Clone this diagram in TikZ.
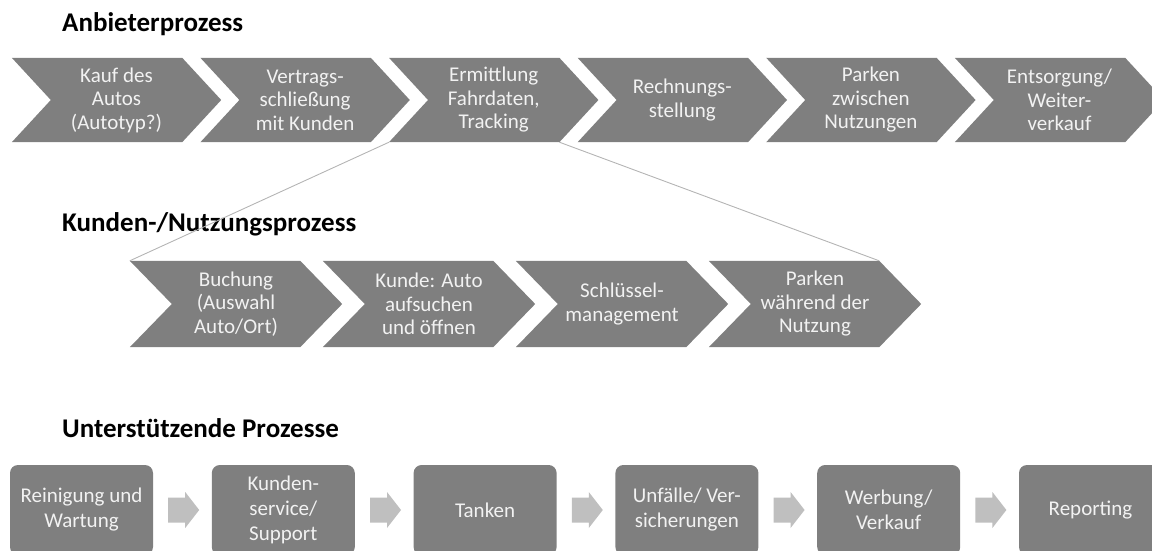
\documentclass[tikz,border=0pt]{standalone}
\usepackage{fontspec}
\setmainfont{Carlito}
\usetikzlibrary{backgrounds}
\definecolor{stepgray}{HTML}{7F7F7F}
\definecolor{steptext}{HTML}{F2F2F2}
\definecolor{arrowgray}{HTML}{BFBFBF}
\definecolor{linkgray}{HTML}{B4B4B4}
\tikzset{
  heading/.style={anchor=base west, inner sep=0pt, font=\fontsize{27}{32}\selectfont\bfseries},
  chevtop/.style={minimum width=209pt, minimum height=84pt, inner sep=0pt, align=center,
    text=steptext, font=\fontsize{21}{23.5}\selectfont},
  chevmid/.style={chevtop, minimum width=212pt, minimum height=86pt},
  supbox/.style={fill=stepgray, rounded corners=8pt, minimum width=143pt, minimum height=90pt,
    inner sep=0pt, align=center, text=steptext, font=\fontsize{21}{25}\selectfont},
  chevfill/.style={fill=stepgray},
  blockarrow/.style={fill=arrowgray},
  link/.style={draw=linkgray, line width=0.9pt},
}
\begin{document}
\begin{tikzpicture}[x=1pt,y=-1pt]
\useasboundingbox (0,0) rectangle (1152,551);

% section headings
\node[heading] (t1) at (62,32) {Anbieterprozess};
\node[heading] (t2) at (62,231) {Kunden-/Nutzungsprozess};
\node[heading] (t3) at (62,437) {Unterstützende Prozesse};

% provider process chevrons
\foreach \i/\t in {0/{Kauf des\\Autos\\(Autotyp?)},
                   1/{Vertrags-\\schließung\\mit Kunden},
                   2/{Ermittlung\\Fahrdaten,\\Tracking},
                   3/{Rechnungs-\\stellung},
                   4/{Parken\\zwischen\\Nutzungen},
                   5/{Entsorgung/\\Weiter-\\verkauf}}
  \node[chevtop] (a\i) at (116.5+188.6*\i,100) {\t};

% customer / usage process chevrons
\foreach \i/\t in {0/{Buchung\\(Auswahl\\Auto/Ort)},
                   1/{Kunde: Auto\\aufsuchen\\und öffnen},
                   2/{Schlüssel-\\management},
                   3/{Parken\\während der\\Nutzung}}
  \node[chevmid] (m\i) at (236+193*\i,304) {\t};

% chevron bodies behind the labels
\begin{scope}[on background layer]
  \foreach \i in {0,...,5}
    \fill[chevfill] (a\i.north west) -- ([xshift=-39pt]a\i.north east) -- (a\i.east)
      -- ([xshift=-39pt]a\i.south east) -- (a\i.south west) -- ([xshift=39pt]a\i.west) -- cycle;
  \foreach \i in {0,...,3}
    \fill[chevfill] (m\i.north west) -- ([xshift=-42pt]m\i.north east) -- (m\i.east)
      -- ([xshift=-42pt]m\i.south east) -- (m\i.south west) -- ([xshift=42pt]m\i.west) -- cycle;
\end{scope}

% zoom lines from "Ermittlung" to the usage process
\draw[link] (a2.south west) -- (m0.north west);
\draw[link] ([xshift=-39pt]a2.south east) -- ([xshift=-42pt]m3.north east);

% supporting processes
\foreach \i/\t in {0/{Reinigung und\\Wartung},
                   1/{Kunden-\\service/\\Support},
                   2/{Tanken},
                   3/{Unfälle/ Ver-\\sicherungen},
                   4/{Werbung/\\Verkauf},
                   5/{Reporting}}
  \node[supbox] (s\i) at (81.5+201.8*\i,510) {\t};

% block arrows between the supporting boxes
\foreach \i in {0,...,4}
  \fill[blockarrow, shift={(s\i.east)}] (15,-12.5) -- (32,-12.5) -- (32,-18) -- (46,0)
    -- (32,18) -- (32,12.5) -- (15,12.5) -- cycle;
\end{tikzpicture}
\end{document}
